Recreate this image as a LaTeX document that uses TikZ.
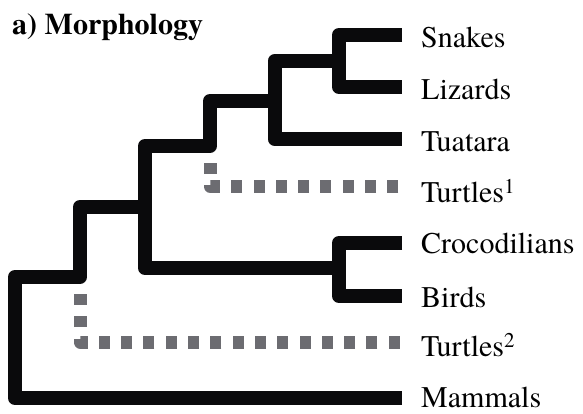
\documentclass[tikz,border=0pt]{standalone}
\usepackage{fontspec}
\setmainfont{texgyretermes}[Extension=.otf, UprightFont=*-regular, BoldFont=*-bold, ItalicFont=*-italic, BoldItalicFont=*-bolditalic]
\definecolor{treeblack}{RGB}{10,10,12}
\definecolor{treegrey}{RGB}{108,108,113}
\begin{document}
\begin{tikzpicture}[x=1pt,y=-1pt,
  branch/.style={line width=14pt, draw=treeblack, line join=round, line cap=butt},
  alt/.style={line width=13pt, draw=treegrey, line join=round, line cap=butt, dash pattern=on 11pt off 11.3pt},
  taxon/.style={anchor=base west, inner sep=0pt, font=\fontsize{30}{36}\selectfont},
  heading/.style={anchor=base west, inner sep=0pt, font=\fontsize{30}{36}\selectfont\bfseries}]
\useasboundingbox (0,0) rectangle (583,414);
% tips
\coordinate (tSn) at (402,35);
\coordinate (tLi) at (402,87);
\coordinate (tTu) at (402,139);
\coordinate (tT1) at (398.3,186.3);
\coordinate (tCr) at (402,243);
\coordinate (tBi) at (402,296);
\coordinate (tT2) at (399.7,342);
\coordinate (tMa) at (402,398);
% internal nodes
\coordinate (nSL) at (339,61);
\coordinate (nSLT) at (274.5,101);
\coordinate (nA) at (210,146);
\coordinate (nCB) at (339,268);
\coordinate (nB) at (145,207);
\coordinate (nC) at (80,277);
\coordinate (root) at (15,340);
\coordinate (eT1) at (210,163);
\coordinate (eT2) at (80,294);
% solid branches
\draw[branch] (tSn) -| (nSL) |- (tLi);
\draw[branch] (nSL) -| (nSLT) |- (tTu);
\draw[branch] (tCr) -| (nCB) |- (tBi);
\draw[branch] (nSLT) -| (nA) -| (nB) |- (nCB);
\draw[branch] (nB) -| (nC) -| (root) |- (tMa);
% alternative turtle placements
\draw[alt] (tT1) -| (eT1);
\draw[alt] (tT2) -| (eT2);
% labels
\node[heading] (ttl) at (12,34.3) {a) Morphology};
\node[taxon] (Sn) at (421,47.3) {Snakes};
\node[taxon] (Li) at (421,99.3) {Lizards};
\node[taxon] (Tu) at (421,151.7) {Tuatara};
\node[taxon] (T1) at (421,202.7) {Turtles\textsuperscript{1}};
\node[taxon] (Cr) at (421,253.3) {Crocodilians};
\node[taxon] (Bi) at (421,307.3) {Birds};
\node[taxon] (T2) at (421,356.7) {Turtles\textsuperscript{2}};
\node[taxon] (Ma) at (421,407.3) {Mammals};
\end{tikzpicture}
\end{document}
